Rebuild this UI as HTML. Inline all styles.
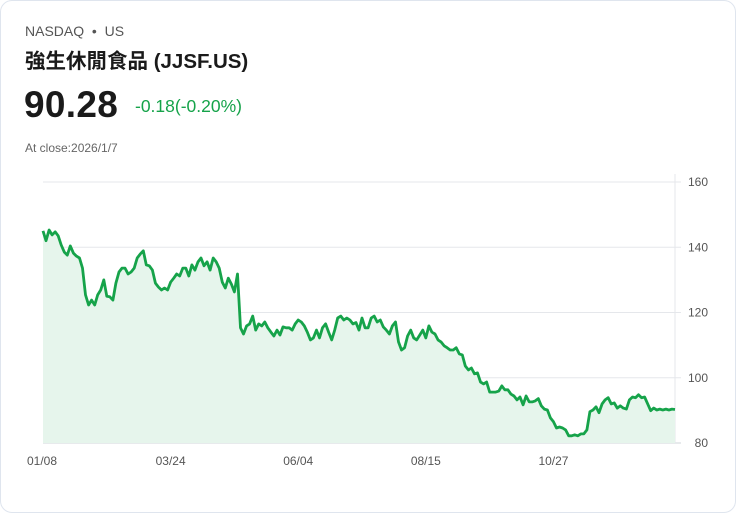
<!DOCTYPE html>
<html><head><meta charset="utf-8"><style>
html,body{margin:0;padding:0;background:#fff;}
body{width:736px;height:513px;overflow:hidden;font-family:"Liberation Sans","Noto Sans CJK TC",sans-serif;}
.card{position:absolute;left:0;top:0;width:734px;height:511px;border:1px solid #dfe5ee;border-radius:12px;background:#fff;}
.ex{position:absolute;left:25px;top:23px;font-size:14px;color:#555;}
.nm{position:absolute;left:25px;top:44px;font-size:20.5px;font-weight:bold;color:#1a1a1a;}
.pr{position:absolute;left:24px;top:84px;font-size:37px;font-weight:bold;color:#1a1a1a;letter-spacing:0.3px;}
.ch{position:absolute;left:135px;top:96px;font-size:17.5px;color:#16a34a;}
.cl{position:absolute;left:25px;top:141px;font-size:12px;color:#666;}
svg{position:absolute;left:0;top:0;}
</style></head><body>
<div class="card"></div>
<div class="ex">NASDAQ &nbsp;•&nbsp; US</div>
<div class="nm">強生休閒食品 (JJSF.US)</div>
<div class="pr">90.28</div>
<div class="ch">-0.18(-0.20%)</div>
<div class="cl">At close:2026/1/7</div>
<svg id="chart" width="736" height="513"></svg>
<script>
const yTicks=[80,100,120,140,160];
const xLabels=["01/08","03/24","06/04","08/15","10/27"];
const xLabelIdx=[0,42,84,126,168];
const prices=[145,142,145.3,143.8,144.7,143.5,140.7,138.5,137.6,140.4,138.2,137.3,136.7,133.6,125.4,122.3,123.8,122.3,125.4,126.9,130,125,124.8,123.8,129,132.4,133.6,133.6,131.8,132.4,133.6,136.7,137.9,138.9,134.6,134.3,133,129,127.8,126.9,127.5,126.9,129.3,130.5,131.8,131.2,133.6,133.6,131.2,134.6,133,135.5,136.7,134.3,135.5,133,136.7,135.5,133.6,129.3,127.5,130.5,128.7,126.3,131.8,115.3,113.4,115.9,116.5,118.9,114.6,116.5,115.9,117.1,115.3,114,112.8,114.6,113.1,115.6,115.3,115.3,114.6,116.5,117.7,117.1,115.9,114,111.6,112.2,114.6,112.2,115.3,116.5,114,111.6,114.6,118.3,118.9,117.7,118.3,117.7,116.5,116.9,114.6,118.3,115.3,115.3,118.3,118.9,117.1,117.7,115.6,114.6,113.4,115.9,117.1,111,108.5,109.2,112.8,114.6,112.2,111.6,113.1,114.6,112.2,115.9,114,113.4,111.6,111,109.8,109.2,108.5,108.5,109.2,107.3,107,103.6,102.4,103,101.2,101.5,98.7,98.1,98.7,95.6,95.6,95.6,95.9,97.5,96.3,96.3,95,94.4,93.2,94.1,91.7,94.4,92.6,92.6,92.9,93.6,91.4,90.4,90.1,87.7,86.5,84.6,84.9,84.6,84,82.2,82.2,82.5,82.2,82.8,82.8,84,89.6,90.1,91.1,89.3,92,93.2,93.9,92,92.3,90.7,91.4,90.7,90.4,93.2,94.1,93.9,94.8,93.9,94.1,92,89.9,90.7,90.1,90.4,90.1,90.4,90.1,90.4,90.28];
const X0=43,X1=675,Y0=443,Y1=182;
const ns="http://www.w3.org/2000/svg";
const svg=document.getElementById('chart');
const xs=i=>X0+(X1-X0)*i/(prices.length-1);
const ys=v=>Y0-(v-80)/(160-80)*(Y0-Y1);
function mk(t,a){const e=document.createElementNS(ns,t);for(const k in a)e.setAttribute(k,a[k]);svg.appendChild(e);return e;}
yTicks.forEach(v=>{
 const l=mk('line',{x1:X0,x2:X1+6,y1:ys(v),y2:ys(v),stroke:v===80?'#cfd4da':'#e5e7eb','stroke-width':1});
 
 
 const t=mk('text',{x:708,y:ys(v)+4,'text-anchor':'end','font-size':12,fill:'#555','font-family':'Liberation Sans, sans-serif'});
 t.textContent=v;
 
 
});
const ax=mk('line',{x1:X1,x2:X1,y1:Y1-8,y2:Y0,stroke:'#e5e7eb','stroke-width':1});


xLabels.forEach((s,k)=>{
 const t=mk('text',{x:xs(xLabelIdx[k]),y:465,'text-anchor':k===0?'start':'middle','font-size':12,fill:'#555','font-family':'Liberation Sans, sans-serif'});
 if(k===0)t.setAttribute('x',27);
 t.textContent=s;
 
 
});
let d='';prices.forEach((v,i)=>{d+=(i?'L':'M')+xs(i).toFixed(1)+','+ys(v).toFixed(1);});
const area=mk('path',{d:d+'L'+X1+','+Y0+'L'+X0+','+Y0+'Z',fill:'#e6f5ec'});


const line=mk('path',{d:d,fill:'none',stroke:'#16a34a','stroke-width':2.8,'stroke-linejoin':'round'});


</script>
</body></html>
